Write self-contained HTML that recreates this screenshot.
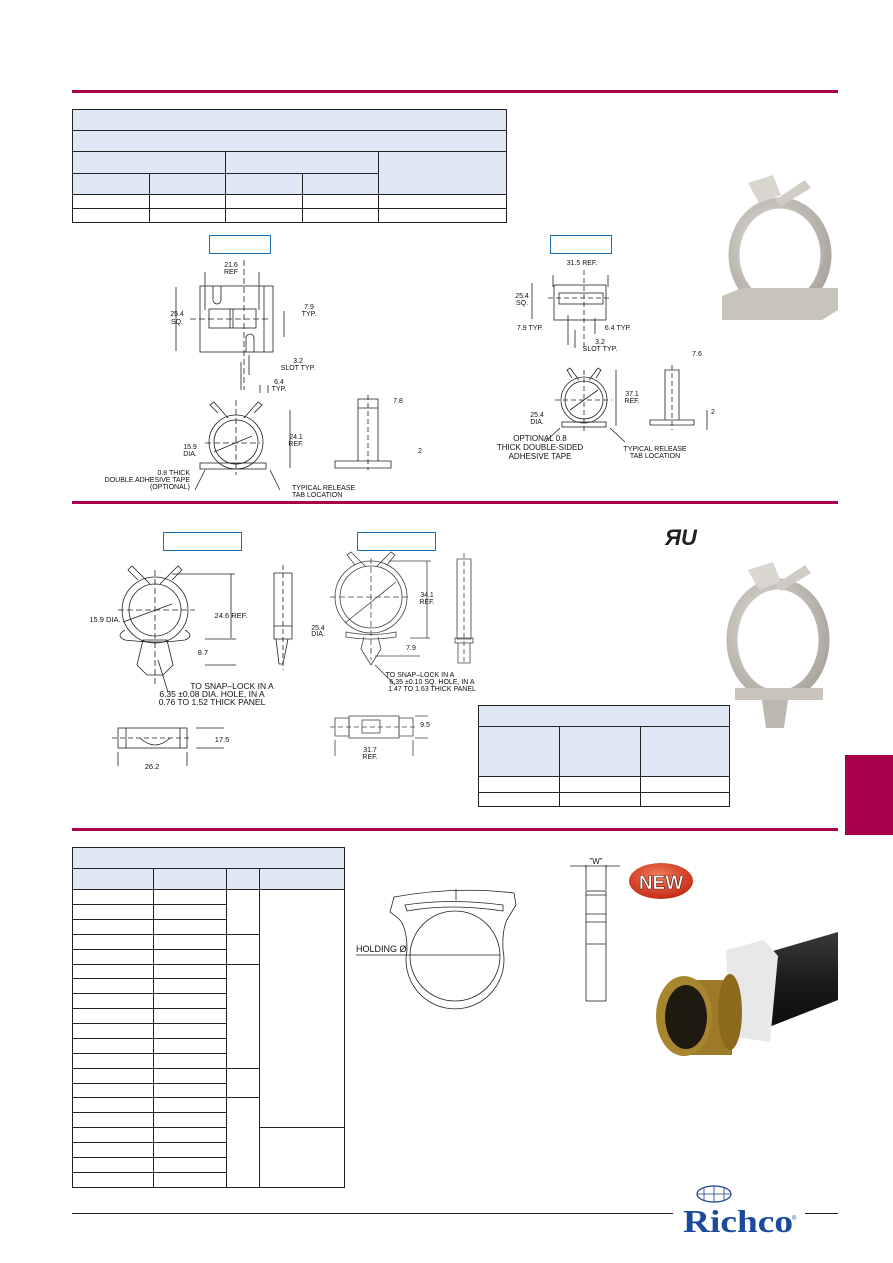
<!DOCTYPE html>
<html><head><meta charset="utf-8"><style>
html,body{margin:0;padding:0;background:#fff}
svg{display:block}
text{font-family:"Liberation Sans",sans-serif;fill:#111}
</style></head><body>
<svg width="893" height="1263" viewBox="0 0 893 1263" xmlns="http://www.w3.org/2000/svg">
<defs>
<radialGradient id="g1" cx="0.4" cy="0.4" r="0.7"><stop offset="0" stop-color="#e6e3de"/><stop offset="1" stop-color="#a9a49c"/></radialGradient>
<radialGradient id="rn" cx="0.45" cy="0.35" r="0.7"><stop offset="0" stop-color="#f27a5a"/><stop offset="1" stop-color="#c2260f"/></radialGradient>
<linearGradient id="hose" x1="0" y1="0" x2="0" y2="1"><stop offset="0" stop-color="#3a3a3a"/><stop offset="0.5" stop-color="#1a1a1a"/><stop offset="1" stop-color="#0a0a0a"/></linearGradient>
</defs>
<rect x="72" y="90" width="766" height="3" fill="#a8004a"/>
<rect x="72" y="501" width="766" height="3" fill="#a8004a"/>
<rect x="72" y="828" width="766" height="3" fill="#a8004a"/>
<rect x="845" y="755" width="48" height="80" fill="#a8004a"/>
<rect x="72" y="1213" width="601" height="1" fill="#222"/>
<rect x="805" y="1213" width="33" height="1" fill="#222"/>

<g stroke="#222" stroke-width="1" fill="none">
<rect x="72.5" y="109.5" width="434" height="85" fill="#e0e7f4"/>
<rect x="72.5" y="109.5" width="434" height="113"/>
<line x1="72" y1="130.5" x2="506" y2="130.5"/><line x1="72" y1="151.5" x2="506" y2="151.5"/>
<line x1="72" y1="173.5" x2="378" y2="173.5"/><line x1="72" y1="194.5" x2="506" y2="194.5"/><line x1="72" y1="208.5" x2="506" y2="208.5"/>
<line x1="225.5" y1="151" x2="225.5" y2="222"/><line x1="378.5" y1="151" x2="378.5" y2="222"/>
<line x1="149.5" y1="173" x2="149.5" y2="222"/><line x1="302.5" y1="173" x2="302.5" y2="222"/>
<rect x="478.5" y="705.5" width="251" height="71" fill="#e0e7f4"/>
<rect x="478.5" y="705.5" width="251" height="101"/>
<line x1="478" y1="726.5" x2="729" y2="726.5"/><line x1="478" y1="776.5" x2="729" y2="776.5"/><line x1="478" y1="792.5" x2="729" y2="792.5"/>
<line x1="559.5" y1="726" x2="559.5" y2="806"/><line x1="640.5" y1="726" x2="640.5" y2="806"/>
<rect x="72.5" y="847.5" width="272" height="42" fill="#e0e7f4"/>
<rect x="72.5" y="847.5" width="272" height="340"/>
<line x1="72" y1="868.5" x2="344" y2="868.5"/><line x1="72" y1="889.5" x2="344" y2="889.5"/>
<line x1="153.5" y1="868" x2="153.5" y2="1188"/><line x1="226.5" y1="868" x2="226.5" y2="1188"/><line x1="259.5" y1="868" x2="259.5" y2="1188"/>
<path d="M72 904.5H226M72 919.5H226M72 934.5H259M72 949.5H226M72 964.5H259M72 978.5H226M72 993.5H226M72 1008.5H226M72 1023.5H226M72 1038.5H226M72 1053.5H226M72 1068.5H259M72 1083.5H226M72 1097.5H259M72 1112.5H226M72 1127.5H226M259 1127.5H344M72 1142.5H226M72 1157.5H226M72 1172.5H226"/>
</g>
<g stroke="#1b6fb5" stroke-width="1" fill="none">
<rect x="209.5" y="235.5" width="61" height="18"/><rect x="550.5" y="235.5" width="61" height="18"/>
<rect x="163.5" y="532.5" width="78" height="18"/><rect x="357.5" y="532.5" width="78" height="18"/>
</g>

<g stroke="#222" stroke-width="0.8" fill="none">
<rect x="200" y="286" width="73" height="66"/><line x1="264" y1="286" x2="264" y2="352"/>
<rect x="209" y="309" width="47" height="19"/><line x1="230" y1="309" x2="230" y2="328"/><line x1="233" y1="309" x2="233" y2="328"/>
<path d="M213 286v14a4 4 0 0 0 8 0v-14M246 352v-14a4 4 0 0 1 8 0v14"/>
<line x1="244" y1="260" x2="244" y2="390" stroke-dasharray="6 3"/><line x1="190" y1="319" x2="270" y2="319" stroke-dasharray="6 3"/>
<path d="M205 272v38M259 272v38M176 287v64M284 311v26M241 362v28M249 355v20M260 385v8M268 385v8"/>
<path d="M358 399h20v62h-20zM358 408h20M335 461h56v7h-56z"/><line x1="368" y1="395" x2="368" y2="470" stroke-dasharray="5 3"/>
<circle cx="236" cy="442" r="27"/><circle cx="236" cy="442" r="22"/>
<path d="M218 413l-8-8 4-3 14 16M254 413l8-8-4-3-14 16"/>
<rect x="200" y="463" width="66" height="6"/>
<line x1="205" y1="443" x2="260" y2="443" stroke-dasharray="6 3"/><line x1="236" y1="400" x2="236" y2="475" stroke-dasharray="6 3"/>
<line x1="214" y1="452" x2="252" y2="436"/><line x1="290" y1="410" x2="290" y2="468"/>
<path d="M205 470l-10 20M270 470l10 20"/>
</g>
<g font-size="7" text-anchor="middle">
<text x="231" y="267">21.6</text><text x="231" y="274">REF</text>
<text x="177" y="316">25.4</text><text x="177" y="324">SQ.</text>
<text x="309" y="309">7.9</text><text x="309" y="316">TYP.</text>
<text x="298" y="363">3.2</text><text x="298" y="370">SLOT TYP.</text>
<text x="279" y="384">6.4</text><text x="279" y="391">TYP.</text>
<text x="398" y="403">7.8</text><text x="420" y="453">2</text>
<text x="190" y="449">15.9</text><text x="190" y="456">DIA.</text>
<text x="296" y="439">24.1</text><text x="296" y="446">REF.</text>
<text x="190" y="475" text-anchor="end">0.8 THICK</text>
<text x="190" y="482" text-anchor="end">DOUBLE ADHESIVE TAPE</text>
<text x="190" y="489" text-anchor="end">(OPTIONAL)</text>
<text x="292" y="490" text-anchor="start">TYPICAL RELEASE</text><text x="292" y="497" text-anchor="start">TAB LOCATION</text>
</g>

<g stroke="#222" stroke-width="0.8" fill="none">
<rect x="554" y="285" width="52" height="35"/><rect x="559" y="293" width="44" height="11"/>
<line x1="584" y1="270" x2="584" y2="350" stroke-dasharray="5 3"/><line x1="548" y1="298" x2="612" y2="298" stroke-dasharray="5 3"/>
<path d="M553 275v12M608 275v12M532 283v36M568 315v30M575 330v18M595 318v16"/>
<circle cx="584" cy="400" r="23"/><circle cx="584" cy="400" r="19"/>
<path d="M572 378l-5-8 3-2 9 12M596 378l5-8-3-2-9 12"/><rect x="562" y="422" width="44" height="5"/>
<line x1="555" y1="400" x2="612" y2="400" stroke-dasharray="5 3"/><line x1="584" y1="370" x2="584" y2="432" stroke-dasharray="5 3"/>
<line x1="570" y1="410" x2="598" y2="390"/><path d="M616 370v56M560 428l-15 14M610 428l15 14"/>
<path d="M665 370h14v50h-14zM650 420h44v5h-44zM707 410v20"/><line x1="672" y1="365" x2="672" y2="430" stroke-dasharray="5 3"/>
</g>
<g font-size="7" text-anchor="middle">
<text x="582" y="265">31.5 REF.</text><text x="522" y="298">25.4</text><text x="522" y="305">SQ.</text>
<text x="530" y="330">7.9 TYP.</text><text x="618" y="330">6.4 TYP.</text>
<text x="600" y="344">3.2</text><text x="600" y="351">SLOT TYP.</text>
<text x="697" y="356">7.6</text><text x="632" y="396">37.1</text><text x="632" y="403">REF.</text>
<text x="537" y="417">25.4</text><text x="537" y="424">DIA.</text><text x="713" y="414">2</text>
<text x="540" y="441" font-size="8">OPTIONAL 0.8</text><text x="540" y="450" font-size="8">THICK DOUBLE-SIDED</text><text x="540" y="459" font-size="8">ADHESIVE TAPE</text>
<text x="655" y="451">TYPICAL RELEASE</text><text x="655" y="458">TAB LOCATION</text>
</g>

<g stroke="#222" stroke-width="0.8" fill="none">
<circle cx="155" cy="610" r="33"/><circle cx="155" cy="610" r="26"/>
<path d="M138 580l-10-10 4-4 18 18M172 580l10-10-4-4-18 18"/>
<path d="M125 630q-10 6 0 10q30 4 60 0q10-4 0-10"/>
<path d="M143 640l-6 25l10 10h16l10-10l-6-25z"/>
<line x1="118" y1="610" x2="195" y2="610" stroke-dasharray="6 3"/><line x1="155" y1="570" x2="155" y2="685" stroke-dasharray="6 3"/>
<line x1="123" y1="622" x2="172" y2="604"/><path d="M172 574h63M231 574v64M205 639h31M205 665h31M158 660l10 32"/>
<path d="M274 573h18v66h-18zM274 626h18M276 639l3 25 4 0 5-25"/><line x1="283" y1="565" x2="283" y2="670" stroke-dasharray="5 3"/>
<rect x="118" y="728" width="69" height="20"/><path d="M126 728v20M180 728v20M140 738q15 14 30 0"/><line x1="112" y1="738" x2="192" y2="738" stroke-dasharray="5 3"/>
<path d="M118 752v14M187 752v14M196 728h28M196 748h28"/>
</g>
<g font-size="7.5" text-anchor="middle">
<text x="105" y="622">15.9 DIA.</text><text x="231" y="618">24.6 REF.</text><text x="203" y="655">8.7</text>
<text x="232" y="689" font-size="8.5">TO SNAP–LOCK IN A</text><text x="212" y="697" font-size="8.5">6.35 ±0.08 DIA. HOLE, IN A</text><text x="212" y="705" font-size="8.5">0.76 TO 1.52 THICK PANEL</text>
<text x="222" y="742">17.5</text><text x="152" y="769">26.2</text>
</g>

<g stroke="#444" stroke-width="0.8" fill="none">
<circle cx="371" cy="597" r="36"/><circle cx="371" cy="597" r="31"/>
<path d="M355 565l-8-10 4-3 15 15M387 565l8-10-4-3-15 15"/><path d="M346 632q25 5 50 0v5q-25 4-50 0z"/>
<path d="M364 637l-3 12 10 16 10-16-3-12"/>
<line x1="330" y1="597" x2="410" y2="597" stroke-dasharray="6 3"/><line x1="371" y1="558" x2="371" y2="660" stroke-dasharray="6 3"/>
<line x1="345" y1="623" x2="396" y2="582"/><path d="M389 561h42M427 561v77M410 638h20M375 656h45M375 665l20 20"/>
<path d="M457 559h14v80h-14zM455 638h18v5h-18zM458 643v20h12v-20"/><line x1="464" y1="553" x2="464" y2="665" stroke-dasharray="5 3"/>
<rect x="349" y="716" width="50" height="22"/><rect x="362" y="720" width="18" height="13"/>
<path d="M335 718h14v18h-14zM399 718h14v18h-14z"/><line x1="330" y1="727" x2="418" y2="727" stroke-dasharray="5 3"/>
<path d="M335 740v16M413 740v16M415 716h13M415 738h13"/>
</g>
<g font-size="7" text-anchor="middle" fill="#333">
<text x="318" y="630">25.4</text><text x="318" y="636">DIA.</text><text x="427" y="597">34.1</text><text x="427" y="604">REF.</text>
<text x="411" y="650">7.9</text>
<text x="420" y="677">TO SNAP–LOCK IN A</text><text x="432" y="684">6.35 ±0.10 SQ. HOLE, IN A</text><text x="432" y="691">1.47 TO 1.63 THICK PANEL</text>
<text x="425" y="727">9.5</text><text x="370" y="752">31.7</text><text x="370" y="759">REF.</text>
</g>

<text x="665" y="545" font-size="22" font-weight="bold" font-style="italic" style="fill:#222">ЯU</text>

<g>
<ellipse cx="780" cy="255" rx="46" ry="52" fill="none" stroke="url(#g1)" stroke-width="11"/>
<path d="M722 296l20-8h96v22l-16 10h-100z" fill="#c8c3bb"/><path d="M748 183l25-8 8 20-22 8z" fill="#d9d5cf"/><path d="M775 200l30-20 6 8-30 18z" fill="#d0ccc5"/>
<ellipse cx="778" cy="640" rx="46" ry="56" fill="none" stroke="url(#g1)" stroke-width="11"/>
<path d="M735 688h88v12h-88z" fill="#c8c3bb"/><path d="M762 700h26l-4 28h-18z" fill="#bcb7af"/>
<path d="M748 570l25-8 8 20-22 8z" fill="#d9d5cf"/><path d="M775 585l30-20 6 8-30 18z" fill="#d0ccc5"/>
</g>

<g stroke="#222" stroke-width="0.8" fill="none">
<path d="M390 912L394 897Q455 886 514 893L516 905L508 918Q502 928 503 950A49 49 0 1 1 407 950Q407 926 398 918Z"/>
<circle cx="455" cy="956" r="45"/>
<path d="M405 905Q450 898 503 905v6Q450 903 407 911z"/>
<line x1="456" y1="889" x2="456" y2="900"/>
<line x1="356" y1="955" x2="500" y2="955"/>
<rect x="586" y="891" width="20" height="110"/><path d="M586 895h20M586 914h20M586 922h20M586 944h20M586 865v25M606 865v25M570 866h50"/>
</g>
<text x="356" y="952" font-size="9">HOLDING Ø</text>
<text x="596" y="864" font-size="8" text-anchor="middle">"W"</text>
<ellipse cx="661" cy="881" rx="32" ry="18" fill="url(#rn)"/>
<text x="661" y="889" font-size="19" font-weight="bold" text-anchor="middle" style="fill:#fff;stroke:#5a1a10;stroke-width:0.6">NEW</text>
<path d="M735 962l103-30v68l-92 36z" fill="url(#hose)"/>
<path d="M726 950l38-10 14 16-8 86-40-6z" fill="#e8e8ea"/>
<path d="M690 980h42v75h-42z" fill="#9c7a28"/>
<ellipse cx="730" cy="1012" rx="12" ry="38" fill="#8b6a1e"/>
<ellipse cx="684" cy="1016" rx="28" ry="40" fill="#a88630"/>
<ellipse cx="686" cy="1017" rx="21" ry="32" fill="#1e1a10"/>
<ellipse cx="714" cy="1194" rx="17" ry="8" fill="none" stroke="#1a3f8f" stroke-width="1.2"/>
<path d="M697 1194h34M714 1186v16M704 1187v14M724 1187v14" stroke="#1a3f8f" stroke-width="0.8" fill="none"/>
<text x="683" y="1232" font-size="32" font-weight="bold" textLength="110" lengthAdjust="spacingAndGlyphs" style="fill:#1a4a9a;font-family:'Liberation Serif',serif">Richco</text>
<text x="792" y="1220" font-size="6" style="fill:#1a4a9a">®</text>
</svg>
</body></html>
